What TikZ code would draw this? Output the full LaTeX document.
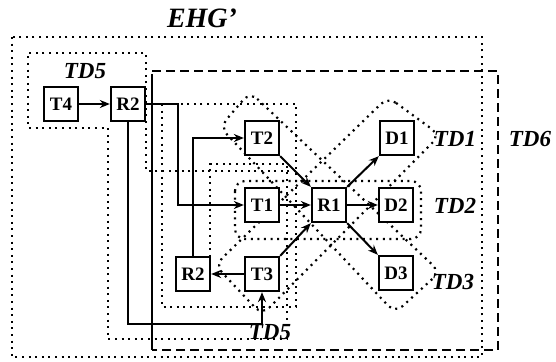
\documentclass[tikz,border=0pt]{standalone}
\usepackage{fontspec}
\setmainfont{Liberation Serif}
\usetikzlibrary{arrows.meta}
\begin{document}
\begin{tikzpicture}[x=1pt,y=-1pt,
  box/.style={draw,line width=2.3pt,minimum width=34pt,minimum height=34pt,inner sep=0pt,fill=white,font=\fontsize{19}{19}\selectfont\bfseries},
  conn/.style={line width=2pt,-{Stealth[length=10pt,width=8pt]}},
  dotline/.style={line width=2.2pt,dash pattern=on 2pt off 4.6pt},
  dashline/.style={line width=2pt,dash pattern=on 9pt off 5pt},
  lbl/.style={font=\fontsize{23}{23}\selectfont\bfseries\itshape,inner sep=0pt}
]
\useasboundingbox (0,0) rectangle (556,361);

% regions
\draw[dotline] (12,37) rectangle (482,357);
\draw[dashline] (152,71) -- (498,71) -- (498,350) -- (152,350);
\draw[line width=1.8pt] (152,74) -- (152,350);
\draw[dotline] (296,171) -- (146,171) -- (146,53) -- (28,53) -- (28,128) -- (108,128) -- (108,339) -- (287,339) -- (287,164) -- (210,164) -- (210,257);
\draw[dotline] (162,104) rectangle (296,307);
\draw[dotline,rounded corners=10pt] (235,181) rectangle (421,239);
\draw[dotline,rounded corners=10pt] (388,97) -- (440,135) -- (262,315) -- (215,265) -- cycle;
\draw[dotline,rounded corners=10pt] (250,92) -- (440,272) -- (395,313) -- (220,127) -- cycle;

% nodes
\node[box] (T4) at (61,104) {T4};
\node[box] (R2a) at (128,104) {R2};
\node[box] (T2) at (262,138) {T2};
\node[box] (T1) at (262,205) {T1};
\node[box] (R1) at (329,205) {R1};
\node[box] (D1) at (397,138) {D1};
\node[box] (D2) at (396,205) {D2};
\node[box] (D3) at (396,273) {D3};
\node[box] (R2b) at (193,274) {R2};
\node[box] (T3) at (262,274) {T3};

% connectors
\coordinate (c1) at (178,104);
\coordinate (c2) at (178,205);
\coordinate (c3) at (128,324);
\coordinate (c4) at (262,324);
\draw[conn] (T4) -- (R2a);
\draw[conn] (R2a.east) -- (c1) -- (c2) -- (T1.west);
\draw[conn] (R2b.north) |- (T2.west);
\draw[conn] (R2a.south) -- (c3) -- (c4) -- (T3.south);
\draw[conn] (T3) -- (R2b);
\draw[conn] (T1) -- (R1);
\draw[conn] (T2.south east) -- (R1.north west);
\draw[conn] (T3.north east) -- (R1.south west);
\draw[conn] (R1.north east) -- (D1.south west);
\draw[conn] (R1) -- (D2);
\draw[conn] (R1.south east) -- (D3.north west);

% labels
\node[lbl,font=\fontsize{28}{28}\selectfont\bfseries\itshape] (ehg) at (202,18) {EHG’};
\node[lbl] (td5a) at (85,71) {TD5};
\node[lbl] (td1) at (455,139) {TD1};
\node[lbl] (td6) at (530,139) {TD6};
\node[lbl] (td2) at (455,206) {TD2};
\node[lbl] (td3) at (453,282) {TD3};
\node[lbl] (td5b) at (270,332) {TD5};
\end{tikzpicture}
\end{document}
